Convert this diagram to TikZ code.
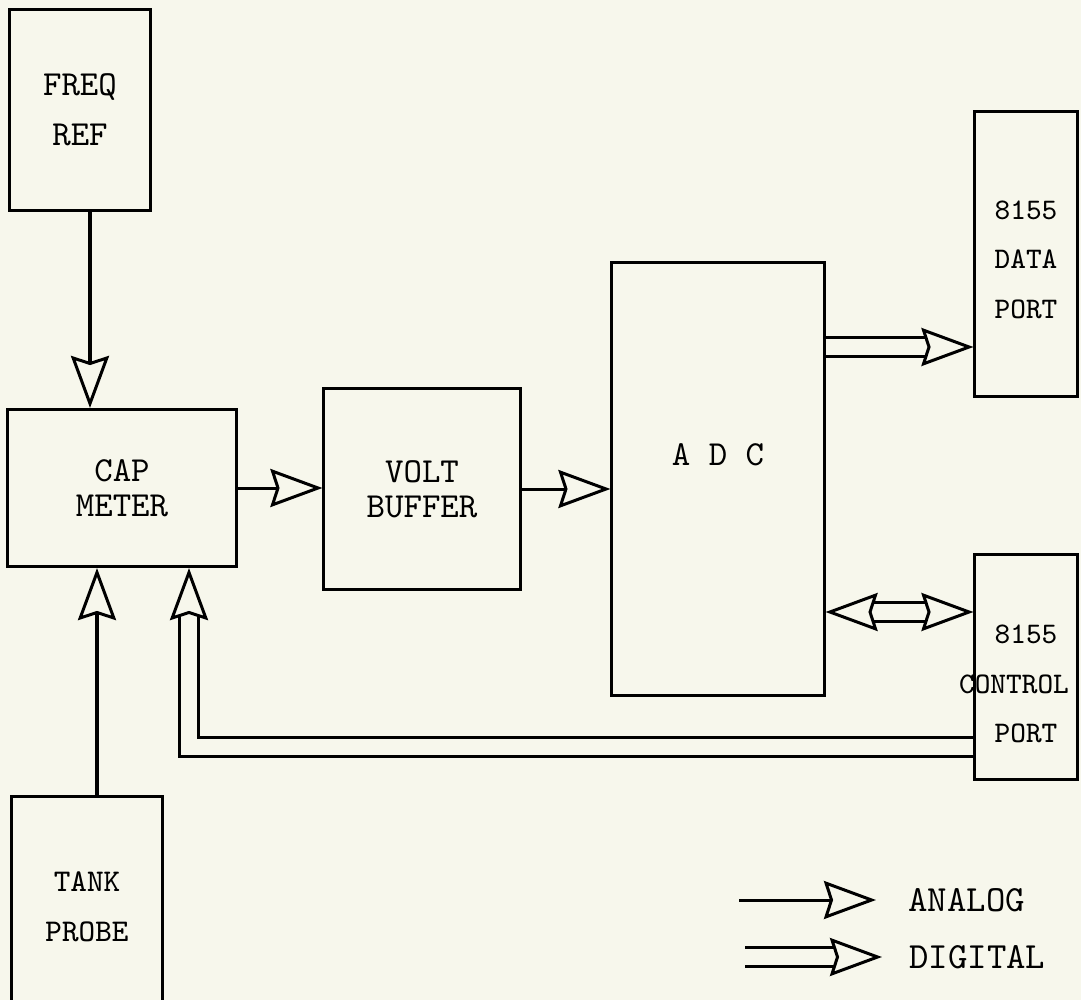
\documentclass[tikz,border=0pt]{standalone}
\usepackage{fontspec}
\usetikzlibrary{arrows.meta,calc}
\definecolor{paper}{RGB}{247,247,236}

\begin{document}
\begin{tikzpicture}[
x=0.01cm,y=-0.01cm,
line width=0.3mm,
blk/.style={draw,inner sep=0pt,align=center,font=\ttfamily\fontsize{10}{10}\selectfont},
port/.style={blk,minimum width=10.2mm,font=\ttfamily\fontsize{8.5}{14.2}\selectfont},
lbl/.style={inner sep=0pt,font=\ttfamily\fontsize{10.5}{10.5}\selectfont},
head/.style={-{Stealth[fill=paper,length=5.2mm,width=3.8mm,inset=0.6mm]}},
bus/.style={double=paper,double distance=1.6mm,shorten >=4.6mm}
]
\fill[paper] (0,0) rectangle (1081,1000);
\useasboundingbox (0,0) rectangle (1081,1000);
% blocks
\node[blk,minimum width=14mm,minimum height=20mm] (freq) at (80,110) {FREQ\\[4.2pt]REF};
\node[blk,minimum width=22.8mm,minimum height=15.7mm] (cap) at (122,488) {CAP\\METER};
\node[blk,minimum width=19.6mm,minimum height=20mm] (volt) at (422,489) {VOLT\\BUFFER};
\node[blk,minimum width=21.2mm,minimum height=43.3mm,text depth=4.8mm] (adc) at (718,479) {A D C};
\node[port,minimum height=28.5mm,text height=37pt] (data) at (1026,254) {8155\\DATA\\PORT};
\node[port,minimum height=22.5mm,text height=43.3pt] (ctrl) at (1026,667) {8155\\\makebox[0pt]{CONTROL\hspace{2.4mm}}\\PORT};
\node[blk,minimum width=15mm,minimum height=22mm,font=\ttfamily\fontsize{9}{14.2}\selectfont] (tank) at (87,907) {TANK\\PROBE};
% analog links
\draw[head] (freq.south -| 90,0) -- (cap.north -| 90,0);
\draw[head] (cap.east) -- (cap.east -| volt.west);
\draw[head] (volt.east) -- (volt.east -| adc.west);
\draw[head] (tank.north -| 97,0) -- (cap.south -| 97,0);
% digital links
\coordinate (dtip) at (data.west |- 0,347);
\draw[bus] (adc.east |- dtip) -- (dtip);
\draw[head] ($(dtip)+(-44,0)$) -- (dtip);
\coordinate (cl) at (adc.east |- 0,612);
\coordinate (cr) at (ctrl.west |- 0,612);
\draw[bus,shorten <=4.6mm] (cl) -- (cr);
\draw[head] ($(cl)+(44,0)$) -- (cl);
\draw[head] ($(cr)+(-44,0)$) -- (cr);
\coordinate (ftip) at (cap.south -| 189,0);
\draw[bus] (ctrl.west |- 0,747) -| (ftip);
\draw[head] ($(ftip)+(0,44)$) -- (ftip);
% legend
\node[lbl,anchor=west] (lgana) at (907,900) {ANALOG};
\node[lbl,anchor=west] (lgdig) at (908,957) {DIGITAL};
\coordinate (anas) at (739,900);
\draw[head] (anas) -- ([xshift=-3.1mm]lgana.west);
\coordinate (digs) at (745,957);
\coordinate (ltip) at ([xshift=-2.6mm]lgdig.west);
\draw[bus] (digs) -- (ltip);
\draw[head] ($(ltip)+(-44,0)$) -- (ltip);
\end{tikzpicture}
\end{document}
